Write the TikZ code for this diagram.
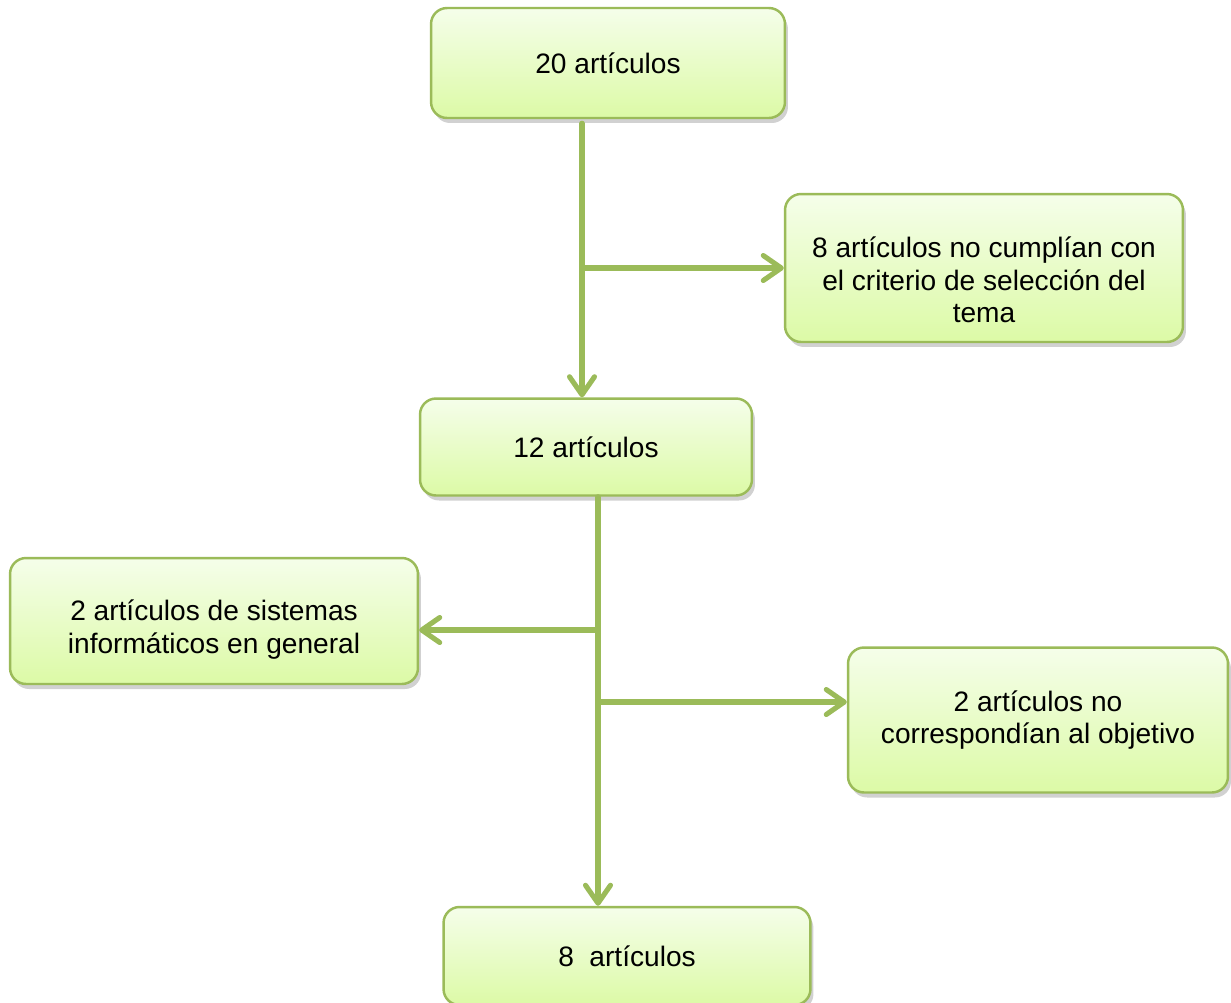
\documentclass[tikz,border=0pt]{standalone}
\usepackage{fontspec}
\setmainfont{Liberation Sans}
\usetikzlibrary{positioning}
\usetikzlibrary{arrows.meta}
\usetikzlibrary{shadows}
\definecolor{leaf-green}{HTML}{9BBB59}
\definecolor{leaf-top}{HTML}{F5FEEA}
\definecolor{leaf-bottom}{HTML}{DCFAA6}
\tikzset{
  stepbox/.style={draw=leaf-green, line width=1.4pt, rounded corners=0.32cm,
    top color=leaf-top, bottom color=leaf-bottom, align=center,
    font=\fontsize{16}{18.5}\selectfont,
    drop shadow={shadow xshift=0.06cm, shadow yshift=-0.1cm, opacity=0.3, fill=black!60}},
  flow/.style={draw=leaf-green, line width=2.9pt, line cap=round,
    -{Straight Barb[length=0.36cm, width=0.5cm, round]}},
}
\begin{document}
\begin{tikzpicture}[x=0.02cm, y=-0.02cm]
\useasboundingbox (0,0) rectangle (1231,1002);
\node[stepbox, minimum width=7.08cm, minimum height=2.2cm] at (608,63) (twenty) {20 artículos};
\node[stepbox, minimum width=7.96cm, minimum height=2.96cm] at (984,268) (criterio) {\rule{0pt}{0.9cm}8 artículos no cumplían con\\el criterio de selección del\\tema};
\node[stepbox, minimum width=6.64cm, minimum height=1.94cm] at (586,447) (twelve) {12 artículos};
\node[stepbox, minimum width=8.16cm, minimum height=2.52cm] at (214,621) (general) {\rule{0pt}{0.76cm}2 artículos de sistemas\\informáticos en general};
\node[stepbox, minimum width=7.6cm, minimum height=2.9cm] at (1038,720) (objetivo) {2 artículos no\\correspondían al objetivo};
\node[stepbox, minimum width=7.34cm, minimum height=1.96cm] at (627,956) (eight) {8\ \ artículos};
% split points on the two trunks
\coordinate (split-a) at (582,268);
\coordinate (split-b) at (598,630);
\coordinate (split-c) at (598,702);
\draw[flow, shorten <=0.08cm] (twenty.south -| split-a) -- (twelve.north -| split-a);
\draw[flow] (split-a) -- (criterio.west |- split-a);
\draw[flow] (twelve.south -| split-b) -- (eight.north -| split-b);
\draw[flow] (split-b) -- (general.east |- split-b);
\draw[flow] (split-c) -- (objetivo.west |- split-c);
\end{tikzpicture}
\end{document}
